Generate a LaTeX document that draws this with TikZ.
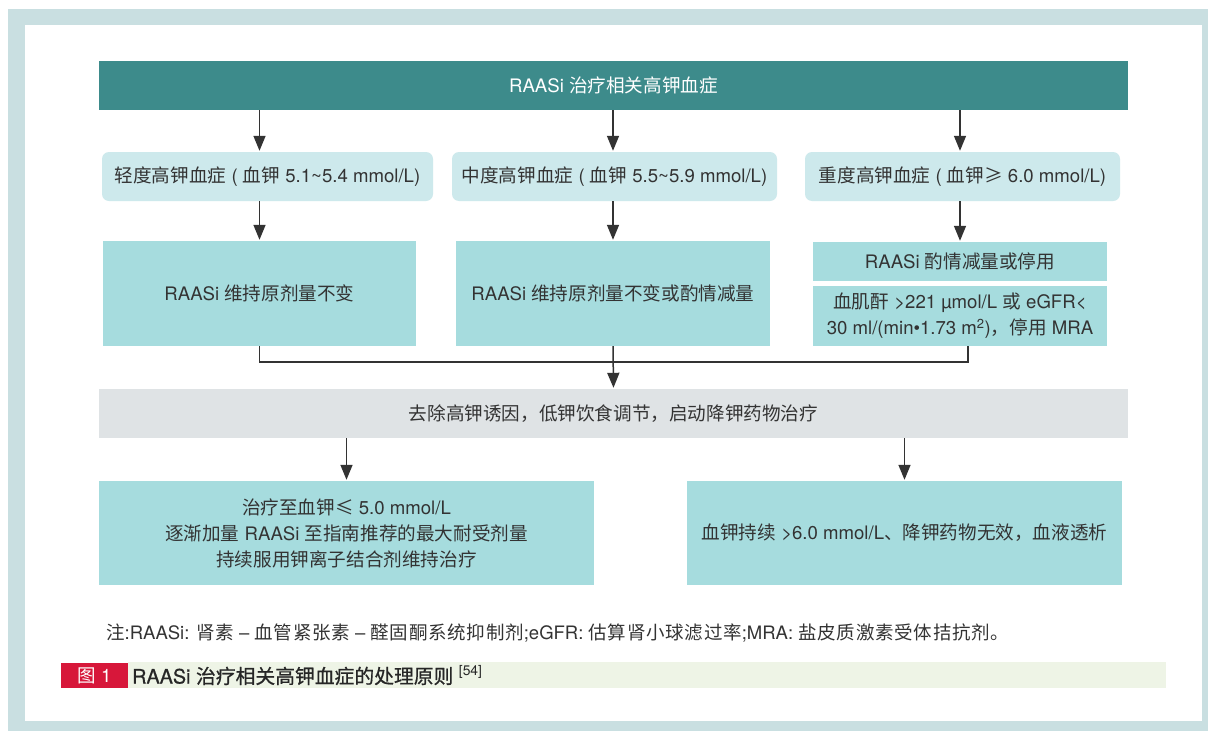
\documentclass[tikz,border=0pt]{standalone}
\usepackage{fontspec}
\setmainfont{TeX Gyre Heros}
\newfontfamily\cjk{Noto Sans CJK SC}
\newfontfamily\cjkls[LetterSpace=4]{Noto Sans CJK SC}
\newfontfamily\cjkb[FakeBold=0.7]{Noto Sans CJK SC}
\newfontfamily\latb[FakeBold=0.7]{TeX Gyre Heros}
\newcommand{\zh}[1]{{\cjk #1}}
\newcommand{\zhn}[1]{{\cjkls #1}}
\newcommand{\zhb}[1]{{\cjkb #1}}
\usetikzlibrary{arrows.meta}
\definecolor{frame}{HTML}{C9DFE1}
\definecolor{teal}{HTML}{3D8B8B}
\definecolor{lcyan}{HTML}{CDE9EC}
\definecolor{mcyan}{HTML}{A6DCDE}
\definecolor{lgray}{HTML}{DFE3E5}
\definecolor{txt}{HTML}{333333}
\definecolor{capred}{HTML}{D7173A}
\definecolor{capgreen}{HTML}{EEF4E6}
\tikzset{
  box/.style={inner sep=0pt, align=center, text=txt, font=\fontsize{18.6}{26}\selectfont},
  lvtwo/.style={box, fill=lcyan, rounded corners=7pt},
  lvthree/.style={box, fill=mcyan},
  conn/.style={draw=txt, line width=1.5pt},
  arr/.style={conn, -{Triangle[width=12pt,length=15pt]}, shorten >=1pt}
}
\begin{document}
\begin{tikzpicture}[x=1pt,y=-1pt]
\useasboundingbox (0,0) rectangle (1208,731);
\fill[white] (0,0) rectangle (1208,731);
\fill[frame] (8,9) rectangle (1208,731);
\fill[white] (25,25) rectangle (1202,721);

% top
\node[box, fill=teal, text=white, minimum width=1029pt, minimum height=49pt] (top) at (613.5,85.5) {RAASi \zh{治疗相关高钾血症}};

% level 2
\node[lvtwo, minimum width=331pt, minimum height=49pt] (l2a) at (267.5,176.5) {\zh{轻度高钾血症} ( \zh{血钾} 5.1\textasciitilde5.4 mmol/L)};
\node[lvtwo, minimum width=325pt, minimum height=49pt] (l2b) at (614.5,176.5) {\zh{中度高钾血症} ( \zh{血钾} 5.5\textasciitilde5.9 mmol/L)};
\node[lvtwo, minimum width=315pt, minimum height=49pt] (l2c) at (962.5,176.5) {\zh{重度高钾血症} ( \zh{血钾≥} 6.0 mmol/L)};

% level 3
\node[lvthree, minimum width=313pt, minimum height=105pt] (l3a) at (259.5,293.5) {RAASi \zh{维持原剂量不变}};
\node[lvthree, minimum width=314pt, minimum height=105pt] (l3b) at (613,293.5) {RAASi \zh{维持原剂量不变或酌情减量}};
\node[lvthree, minimum width=294pt, minimum height=39pt] (l3c) at (960,261.5) {RAASi \zh{酌情减量或停用}};
\node[lvthree, minimum width=294pt, minimum height=60pt] (l3d) at (960,316) {\zh{血肌酐} >221 µmol/L \zh{或} eGFR<\\30 ml/(min\textbullet1.73 m\textsuperscript{2})\zh{，停用} MRA};

% gray
\node[box, fill=lgray, minimum width=1029pt, minimum height=49pt] (mid) at (613.5,413.5) {\zh{去除高钾诱因，低钾饮食调节，启动降钾药物治疗}};

% bottom
\node[lvthree, minimum width=495pt, minimum height=104pt] (bl) at (346.5,533) {\zh{治疗至血钾≤} 5.0 mmol/L\\\zh{逐渐加量} RAASi \zh{至指南推荐的最大耐受剂量}\\\zh{持续服用钾离子结合剂维持治疗}};
\node[lvthree, minimum width=435pt, minimum height=104pt] (br) at (904.5,533) {\zh{血钾持续} >6.0 mmol/L\zh{、降钾药物无效，血液透析}};

% connectors
\draw[arr] (top.south -| l3a.center) -- (l2a.north -| l3a.center);
\draw[arr] (top.south -| l3b.center) -- (l2b.north -| l3b.center);
\draw[arr] (top.south -| l3c.center) -- (l2c.north -| l3c.center);
\draw[arr] (l2a.south -| l3a.center) -- (l3a.north);
\draw[arr] (l2b.south -| l3b.center) -- (l3b.north);
\draw[arr] (l2c.south -| l3c.center) -- (l3c.north);
\coordinate (j) at (613,362);
\coordinate (rx) at (968,0);
\draw[conn] (l3a.south) |- (j);
\draw[conn] (l3d.south -| rx) |- (j);
\draw[arr] (l3b.south) -- (mid.north);
\draw[arr] (mid.south -| bl.north) -- (bl.north);
\draw[arr] (mid.south -| br.north) -- (br.north);

% note
\node[anchor=west, inner sep=0pt, text=txt, font=\fontsize{18.5}{20}\selectfont] (note) at (106,633) {\zhn{注}:RAASi: \zhn{肾素} – \zhn{血管紧张素} – \zhn{醛固酮系统抑制剂};eGFR: \zhn{估算肾小球滤过率};MRA: \zhn{盐皮质激素受体拮抗剂。}};

% caption
\fill[capgreen] (128,662) rectangle (1166,688);
\node[fill=capred, minimum width=67pt, minimum height=25pt, inner sep=0pt, text=white, font=\fontsize{18.5}{20}\selectfont] (capnum) at (94.5,675.5) {\zh{图} 1};
\node[anchor=west, inner sep=0pt, text=black!85, font=\fontsize{19.8}{20}\selectfont] (captxt) at (132,675.5) {{\latb RAASi} \zhb{治疗相关高钾血症的处理原则} \textsuperscript{[54]}};
\end{tikzpicture}
\end{document}
